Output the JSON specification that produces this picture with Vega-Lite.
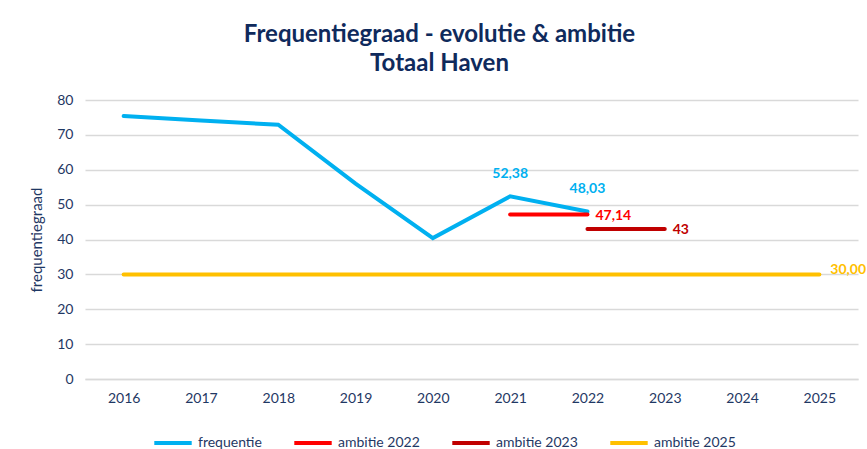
{
  "$schema": "https://vega.github.io/schema/vega-lite/v6.json",
  "autosize": "none",
  "width": 773,
  "height": 279,
  "padding": {"left": 85, "top": 100, "right": 9, "bottom": 70},
  "background": "white",
  "config": {
    "font": "Lato",
    "view": {"stroke": null}
  },
  "title": {
    "text": ["Frequentiegraad - evolutie & ambitie", "Totaal Haven"],
    "font": "Lato",
    "fontSize": 24,
    "fontWeight": "bold",
    "color": "#0F2A5C",
    "lineHeight": 29,
    "anchor": "middle",
    "dx": -32,
    "offset": 17
  },
  "data": {
    "values": [
      {"jaar": "2016", "serie": "frequentie", "waarde": 75.4},
      {"jaar": "2017", "serie": "frequentie", "waarde": 74.1},
      {"jaar": "2018", "serie": "frequentie", "waarde": 72.9},
      {"jaar": "2019", "serie": "frequentie", "waarde": 56.0},
      {"jaar": "2020", "serie": "frequentie", "waarde": 40.4},
      {"jaar": "2021", "serie": "frequentie", "waarde": 52.38, "label": "52,38"},
      {"jaar": "2022", "serie": "frequentie", "waarde": 48.03, "label": "48,03"},
      {"jaar": "2021", "serie": "ambitie 2022", "waarde": 47.14},
      {"jaar": "2022", "serie": "ambitie 2022", "waarde": 47.14, "label": "47,14"},
      {"jaar": "2022", "serie": "ambitie 2023", "waarde": 43},
      {"jaar": "2023", "serie": "ambitie 2023", "waarde": 43, "label": "43"},
      {"jaar": "2016", "serie": "ambitie 2025", "waarde": 30},
      {"jaar": "2025", "serie": "ambitie 2025", "waarde": 30, "label": "30,00"}
    ]
  },
  "encoding": {
    "x": {
      "field": "jaar",
      "type": "ordinal",
      "scale": {"type": "point", "padding": 0.5, "domain": ["2016","2017","2018","2019","2020","2021","2022","2023","2024","2025"]},
      "axis": {
        "title": null,
        "labelAngle": 0,
        "labelFont": "Lato",
        "labelFontSize": 14,
        "labelColor": "#1F3864",
        "labelPadding": 12,
        "ticks": false,
        "domainColor": "#D9D9D9",
        "domainWidth": 1.5,
        "grid": false
      }
    },
    "y": {
      "field": "waarde",
      "type": "quantitative",
      "scale": {"domain": [0, 80], "nice": false, "zero": true},
      "axis": {
        "title": "frequentiegraad",
        "titleFont": "Lato",
        "titleFontSize": 15,
        "titleFontWeight": "normal",
        "titleColor": "#1F3864",
        "titlePadding": 12,
        "values": [0, 10, 20, 30, 40, 50, 60, 70, 80],
        "labelFont": "Lato",
        "labelFontSize": 14,
        "labelColor": "#1F3864",
        "labelPadding": 12,
        "ticks": false,
        "domain": false,
        "gridColor": "#D9D9D9",
        "gridWidth": 1.5
      }
    },
    "color": {
      "field": "serie",
      "type": "nominal",
      "scale": {
        "domain": ["frequentie", "ambitie 2022", "ambitie 2023", "ambitie 2025"],
        "range": ["#00B0F0", "#FF0000", "#C00000", "#FFC000"]
      },
      "legend": {
        "title": null,
        "orient": "none",
        "legendX": 67,
        "legendY": 322,
        "direction": "horizontal",
        "symbolType": "stroke",
        "symbolStrokeWidth": 4,
        "symbolSize": 1400,
        "labelFont": "Lato",
        "labelFontSize": 14,
        "labelColor": "#1F3864",
        "columnPadding": 24
      }
    }
  },
  "layer": [
    {
      "mark": {"type": "line", "strokeWidth": 4, "strokeCap": "round", "strokeJoin": "miter"},
      "encoding": {"detail": {"field": "serie"}}
    },
    {
      "transform": [{"filter": "datum.serie == 'frequentie' && datum.label"}],
      "mark": {"type": "text", "dy": -22, "fontSize": 14, "fontWeight": "bold", "font": "Lato"},
      "encoding": {"text": {"field": "label"}}
    },
    {
      "transform": [{"filter": "datum.serie != 'frequentie' && datum.serie != 'ambitie 2025' && datum.label"}],
      "mark": {"type": "text", "align": "left", "dx": 8, "dy": 1, "fontSize": 14, "fontWeight": "bold", "font": "Lato"},
      "encoding": {"text": {"field": "label"}}
    },
    {
      "transform": [{"filter": "datum.serie == 'ambitie 2025' && datum.label"}],
      "mark": {"type": "text", "align": "left", "dx": 11, "dy": -4, "fontSize": 14, "fontWeight": "bold", "font": "Lato"},
      "encoding": {"text": {"field": "label"}}
    }
  ]
}
